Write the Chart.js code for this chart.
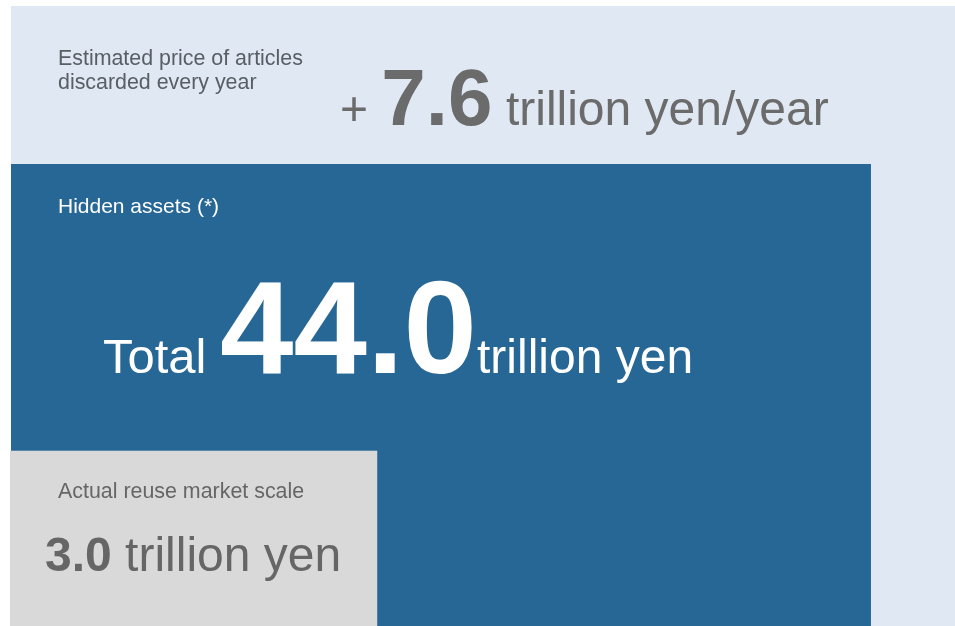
<!DOCTYPE html>
<html>
<head>
    <title>Hidden assets</title>
    <script src="https://cdn.jsdelivr.net/npm/chart.js"></script>
    <style>
        body { margin: 0; background: #ffffff; }
    </style>
</head>
<body>
    <canvas id="assetChart" width="955" height="626"></canvas>

    <script>
    // Data: nested boxes (outer -> inner), extents in chart units (0-100 on both axes)
    const boxNames   = ['Estimated price of articles\ndiscarded every year', 'Hidden assets (*)', 'Actual reuse market scale'];
    const boxValues  = [7.6, 44.0, 3.0];
    const boxPrefix  = ['+ ', 'Total ', ''];
    const boxUnits   = [' trillion yen/year', 'trillion yen', ' trillion yen'];
    const boxLeft    = [1.15, 1.15, 1.05];
    const boxRight   = [100, 91.2, 39.5];
    const boxBottom  = [0, 0, 0];
    const boxTop     = [99.04, 73.8, 28.0];

    // Styles for each box
    const fills      = ['#dfe8f3', '#276795', '#d9d9d9'];
    const nameColors = ['#595e65', '#ffffff', '#666666'];
    const valColors  = ['#6b6b6b', '#ffffff', '#666666'];
    const nameFont   = ['21.4px "Liberation Sans"', '21px "Liberation Sans"', '21.4px "Liberation Sans"'];
    const preFont    = ['48px "Liberation Sans"', '49px "Liberation Sans"', '48px "Liberation Sans"'];
    const numFont    = ['bold 80px "Liberation Sans"', 'bold 132px "Liberation Sans"', 'bold 48px "Liberation Sans"'];
    const unitFont   = ['48px "Liberation Sans"', '48px "Liberation Sans"', '48px "Liberation Sans"'];
    const nameOffset = [[47, 59], [47, 49], [48, 47]];   // from box left/top, px
    const valOffset  = [[329, 119], [92, 209], [35, 120]];

    const boxPlugin = {
        id: 'boxPlugin',
        beforeDatasetsDraw(chart) {
            const ctx = chart.ctx;
            const xs = chart.scales.x;
            const ys = chart.scales.y;
            for (let i = 0; i < boxValues.length; i++) {
                const x0 = xs.getPixelForValue(boxLeft[i]);
                const x1 = xs.getPixelForValue(boxRight[i]);
                const y0 = ys.getPixelForValue(boxTop[i]);
                const y1 = ys.getPixelForValue(boxBottom[i]);
                ctx.save();
                ctx.fillStyle = fills[i];
                ctx.fillRect(x0, y0, x1 - x0, y1 - y0);

                // box name
                ctx.fillStyle = nameColors[i];
                ctx.font = nameFont[i];
                ctx.textBaseline = 'alphabetic';
                ctx.textAlign = 'left';
                const lines = boxNames[i].split('\n');
                lines.forEach((ln, k) => {
                    ctx.fillText(ln, x0 + nameOffset[i][0], y0 + nameOffset[i][1] + k * 24);
                });

                // value line: prefix + number + unit
                let tx = x0 + valOffset[i][0];
                const ty = y0 + valOffset[i][1];
                ctx.fillStyle = valColors[i];
                if (boxPrefix[i]) {
                    ctx.font = preFont[i];
                    ctx.fillText(boxPrefix[i], tx, ty);
                    tx += ctx.measureText(boxPrefix[i]).width;
                }
                ctx.font = numFont[i];
                const num = boxValues[i].toFixed(1);
                ctx.fillText(num, tx, ty);
                tx += ctx.measureText(num).width;
                ctx.font = unitFont[i];
                ctx.fillText(boxUnits[i], tx, ty);
                ctx.restore();
            }
        }
    };

    new Chart(document.getElementById('assetChart').getContext('2d'), {
        type: 'scatter',
        data: { datasets: [{ data: [], pointRadius: 0 }] },
        options: {
            responsive: false,
            animation: false,
            layout: { padding: 0 },
            plugins: { legend: { display: false }, tooltip: { enabled: false } },
            scales: {
                x: { type: 'linear', min: 0, max: 100, display: false },
                y: { type: 'linear', min: 0, max: 100, display: false }
            }
        },
        plugins: [boxPlugin]
    });
    </script>
</body>
</html>
